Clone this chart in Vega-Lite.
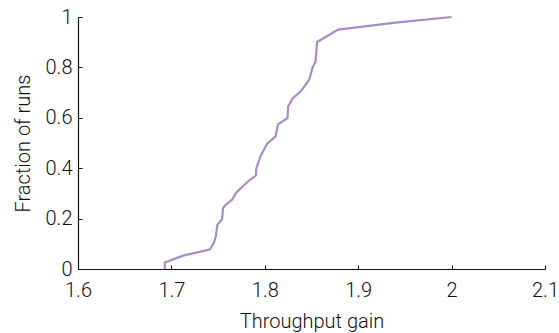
{
  "$schema": "https://vega.github.io/schema/vega-lite/v6.json",
  "autosize": {"type": "none"},
  "width": 467,
  "height": 252,
  "padding": {"left": 78, "top": 17, "right": 14, "bottom": 64},
  "background": "white",
  "data": {"values": [
    {"gain": 1.6929, "frac": 0.0},
    {"gain": 1.6929, "frac": 0.026},
    {"gain": 1.7125, "frac": 0.053},
    {"gain": 1.741, "frac": 0.077},
    {"gain": 1.7454, "frac": 0.103},
    {"gain": 1.7475, "frac": 0.129},
    {"gain": 1.7493, "frac": 0.176},
    {"gain": 1.7543, "frac": 0.198},
    {"gain": 1.7553, "frac": 0.242},
    {"gain": 1.7582, "frac": 0.255},
    {"gain": 1.765, "frac": 0.275},
    {"gain": 1.769, "frac": 0.302},
    {"gain": 1.7829, "frac": 0.35},
    {"gain": 1.7904, "frac": 0.371},
    {"gain": 1.7911, "frac": 0.401},
    {"gain": 1.7957, "frac": 0.451},
    {"gain": 1.8025, "frac": 0.497},
    {"gain": 1.8115, "frac": 0.526},
    {"gain": 1.8143, "frac": 0.575},
    {"gain": 1.8243, "frac": 0.599},
    {"gain": 1.825, "frac": 0.645},
    {"gain": 1.8297, "frac": 0.676},
    {"gain": 1.8393, "frac": 0.709},
    {"gain": 1.8475, "frac": 0.751},
    {"gain": 1.8511, "frac": 0.798},
    {"gain": 1.8543, "frac": 0.824},
    {"gain": 1.856, "frac": 0.901},
    {"gain": 1.8785, "frac": 0.95},
    {"gain": 1.94, "frac": 0.978},
    {"gain": 2.0, "frac": 1.0}
  ]},
  "mark": {"type": "line", "color": "#a88bc7", "strokeWidth": 2.2, "clip": false},
  "encoding": {
    "x": {"field": "gain", "type": "quantitative", "sort": null,
      "scale": {"domain": [1.6, 2.1], "nice": false, "zero": false},
      "axis": {"title": "Throughput gain", "values": [1.6, 1.7, 1.8, 1.9, 2.0, 2.1], "format": "~g", "grid": false, "labelPadding": 15, "titlePadding": 11}},
    "y": {"field": "frac", "type": "quantitative",
      "scale": {"domain": [0, 1], "nice": false},
      "axis": {"title": "Fraction of runs", "values": [0, 0.2, 0.4, 0.6, 0.8, 1], "format": "~g", "grid": false, "labelPadding": 10, "titlePadding": 12}},
    "order": {"field": "frac", "type": "quantitative"}
  },
  "config": {
    "view": {"stroke": null},
    "axis": {
      "domainColor": "#111", "domainWidth": 1.2,
      "tickColor": "#111", "tickSize": -4, "tickWidth": 1,
      "labelFont": "Roboto", "labelFontWeight": 300, "labelFontSize": 20, "labelColor": "#111",
      "titleFont": "Roboto", "titleFontWeight": 300, "titleFontSize": 20, "titleColor": "#111",
      "labelOverlap": false, "labelFlush": false
    }
  }
}
